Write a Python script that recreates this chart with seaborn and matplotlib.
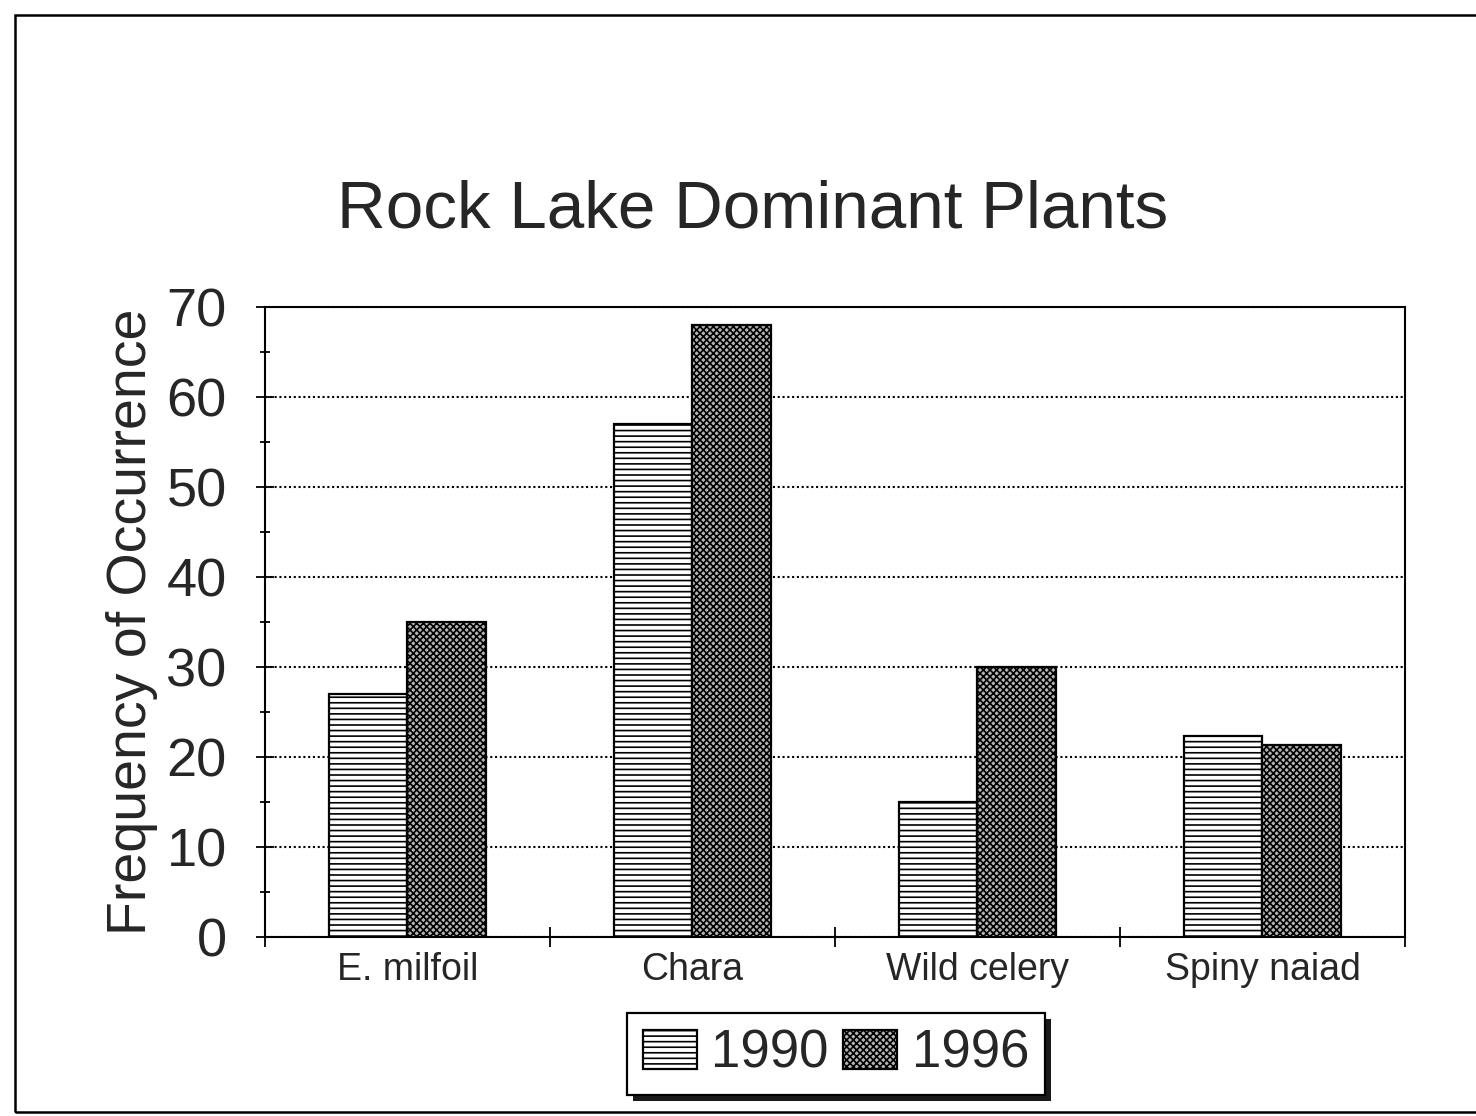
import numpy as np
import pandas as pd
import matplotlib
matplotlib.use("Agg")
import matplotlib.pyplot as plt
from matplotlib.patches import Patch, Rectangle
from matplotlib.transforms import IdentityTransform
from matplotlib.ticker import MultipleLocator, FixedLocator
import seaborn as sns

# Frequency of occurrence of the dominant aquatic plants, Rock Lake
plants = ["E. milfoil", "Chara", "Wild celery", "Spiny naiad"]
years = ["1990", "1996"]
freq_1990 = [27, 57, 15, 22.3]
freq_1996 = [35, 68, 30, 21.3]
y_ticks = [0, 10, 20, 30, 40, 50, 60, 70]

df = pd.DataFrame({
    "Plant": plants * 2,
    "Year": [years[0]] * len(plants) + [years[1]] * len(plants),
    "Frequency": freq_1990 + freq_1996,
})

sns.set_theme(style="ticks")
plt.rcParams["font.family"] = ["Liberation Sans", "DejaVu Sans"]
plt.rcParams["hatch.linewidth"] = 1.2

INK = "#262626"
hatches = {"1990": "---", "1996": "xxxxx"}
faces = {"1990": "white", "1996": "#b4b4b4"}

fig = plt.figure(figsize=(14.76, 11.16), dpi=100)
ax = fig.add_axes([0.1795, 0.1604, 0.7724, 0.5645])

sns.barplot(data=df, x="Plant", y="Frequency", hue="Year",
            order=plants, hue_order=years,
            palette=[faces[y] for y in years], saturation=1,
            edgecolor="black", linewidth=1.6, width=0.55,
            legend=False, ax=ax, zorder=3)
for cont, yr in zip(ax.containers, years):
    for bar in cont:
        bar.set_hatch(hatches[yr])

ax.set_xlim(-0.5, 3.5)
ax.set_ylim(0, 70)
ax.yaxis.set_major_locator(FixedLocator(y_ticks))
ax.yaxis.set_minor_locator(MultipleLocator(5))
ax.set_xticks(range(len(plants)))
ax.set_xticklabels(plants)
ax.set_xticks([-0.5, 0.5, 1.5, 2.5, 3.5], minor=True)

ax.tick_params(axis="x", which="major", length=0, pad=11,
               labelsize=27, labelcolor=INK)
ax.tick_params(axis="x", which="minor", direction="inout", length=14,
               width=1.3, color="black", bottom=True)
ax.tick_params(axis="y", which="major", direction="inout", length=13,
               width=1.3, color="black", pad=21, labelsize=39, labelcolor=INK)
ax.tick_params(axis="y", which="minor", direction="inout", length=7,
               width=1.3, color="black", left=True)

ax.set_xlabel("")
ax.set_ylabel("Frequency of Occurrence", fontsize=40, color=INK, labelpad=6)

for s in ax.spines.values():
    s.set_visible(True)
    s.set_color("black")
    s.set_linewidth(1.5)

ax.yaxis.grid(True, which="major", linestyle=(0, (1, 1.3)),
              linewidth=1.5, color="black")
ax.set_axisbelow(True)

fig.text(0.51, 1 - 228 / 1116, "Rock Lake Dominant Plants",
         fontsize=48.5, color=INK, ha="center", va="baseline")

handles = [Patch(facecolor=faces[y], edgecolor="black", linewidth=1.6,
                 hatch=hatches[y], label=y) for y in years]
leg = fig.legend(handles=handles, loc="center",
                 bbox_to_anchor=(0.5665, 0.0556), ncol=2, fontsize=38,
                 frameon=True, fancybox=False, edgecolor="black",
                 handlelength=1.02, handleheight=0.76, handletextpad=0.28,
                 columnspacing=0.28, borderpad=0.3, borderaxespad=0)
leg.get_frame().set_linewidth(1.6)
leg.get_frame().set_alpha(1)
for t in leg.get_texts():
    t.set_color(INK)

# solid drop shadow behind the legend box
fig.canvas.draw()
bb = leg.get_window_extent()
fig.add_artist(Rectangle((bb.x0 + 6, bb.y0 - 6), bb.width, bb.height,
                         transform=IdentityTransform(), facecolor="#1a1a1a",
                         edgecolor="none", zorder=leg.get_zorder() - 0.1))

# page frame
fig.add_artist(Rectangle((15 / 1476, 1 - 1112 / 1116), 1.0, (1112 - 15) / 1116,
                         transform=fig.transFigure, fill=False,
                         edgecolor="black", linewidth=1.8))

fig.savefig("out.png", dpi=100)
